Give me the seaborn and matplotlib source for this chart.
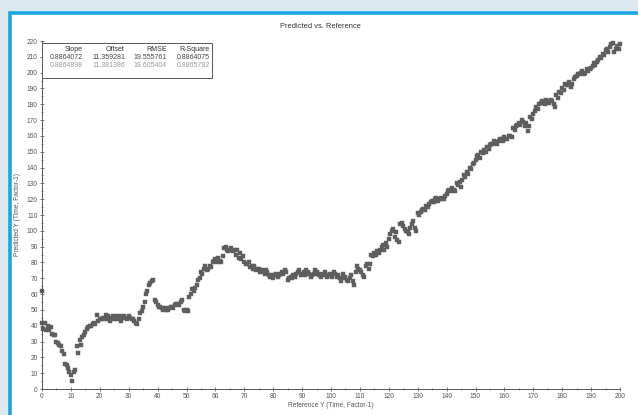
import numpy as np
import pandas as pd
import matplotlib
matplotlib.use("Agg")
import matplotlib.pyplot as plt
from matplotlib.patches import Rectangle
from matplotlib.ticker import MultipleLocator
import seaborn as sns

# Reference grid (half-unit steps) and the predicted values read for each point
reference_y = np.arange(0, 200.5, 0.5)
predicted_y = [
    42, 38, 42, 37, 40, 37, 39, 35, 34, 34, 30, 29, 28, 27, 24, 22, 16, 15, 13, 11,
    9, 5, 11, 12, 27, 23, 31, 28, 33, 34, 36, 38, 39, 40, 40, 41, 42, 41, 47, 43,
    44, 44, 45, 44, 47, 44, 46, 43, 45, 46, 44, 46, 44, 45, 46, 43, 45, 46, 45, 44,
    46, 45, 44, 44, 43, 42, 41, 44, 48, 49, 52, 55, 60, 62, 66, 67, 68, 69, 56, 55,
    53, 52, 52, 51, 50, 51, 50, 50, 51, 52, 52, 51, 53, 54, 54, 53, 55, 56, 50, 49,
    50, 49, 58, 60, 63, 62, 64, 66, 69, 70, 74, 73, 76, 78, 75, 76, 78, 77, 80, 81,
    82, 80, 83, 81, 80, 84, 89, 90, 88, 87, 88, 89, 87, 88, 85, 88, 83, 86, 82, 84,
    80, 79, 79, 80, 77, 78, 76, 78, 75, 76, 76, 74, 75, 74, 73, 75, 74, 72, 71, 72,
    70, 72, 73, 71, 72, 73, 74, 73, 75, 74, 69, 70, 71, 70, 72, 71, 73, 74, 75, 72,
    73, 74, 72, 75, 74, 73, 71, 72, 73, 75, 74, 73, 72, 71, 73, 72, 74, 71, 72, 73,
    72, 71, 74, 73, 71, 72, 70, 68, 73, 70, 71, 69, 68, 70, 72, 68, 66, 74, 78, 76,
    75, 74, 72, 71, 78, 79, 76, 79, 85, 84, 86, 85, 87, 86, 88, 90, 91, 88, 92, 90,
    95, 98, 100, 101, 96, 99, 94, 93, 104, 105, 103, 101, 100, 99, 98, 102, 104, 106, 102, 100,
    111, 110, 112, 113, 114, 113, 116, 115, 117, 118, 119, 118, 120, 121, 119, 120, 121, 120, 120, 122,
    123, 125, 126, 125, 127, 126, 125, 130, 129, 131, 128, 132, 135, 134, 137, 136, 140, 139, 142, 143,
    145, 147, 148, 146, 150, 149, 151, 150, 153, 152, 154, 155, 155, 157, 156, 155, 157, 158, 158, 157,
    159, 158, 158, 160, 160, 159, 165, 164, 166, 167, 168, 167, 170, 169, 166, 168, 163, 166, 172, 171,
    174, 176, 178, 177, 180, 181, 182, 181, 180, 183, 182, 181, 183, 182, 180, 178, 186, 184, 188, 187,
    190, 189, 193, 192, 192, 194, 191, 193, 196, 197, 198, 199, 199, 200, 201, 199, 200, 202, 201, 202,
    203, 204, 206, 205, 207, 208, 210, 209, 212, 211, 214, 215, 213, 216, 218, 219, 213, 215, 217, 215,
    218,
]
# one outlier sitting on the left axis
extra_ref = [0.0]
extra_pred = [62]

stat_headers = ["Slope", "Offset", "RMSE", "R-Square"]
stats_cal = ["0.8864072", "11.359281", "19.555761", "0.8864075"]
stats_val = ["0.8864898", "11.381386", "19.605404", "0.8865792"]

title = "Predicted vs. Reference"
x_label = "Reference Y (Time, Factor-1)"
y_label = "Predicted Y (Time, Factor-1)"

df = pd.DataFrame({
    "ref": np.concatenate([reference_y, extra_ref]),
    "pred": np.concatenate([predicted_y, extra_pred]),
})

sns.set_style("white")
plt.rcParams["font.family"] = ["Liberation Sans", "DejaVu Sans"]

W, H = 638, 415
fig = plt.figure(figsize=(W / 100, H / 100), dpi=100)
fig.patch.set_facecolor("#dce8ef")

# white panel with cyan frame, kept behind the axes
panel = Rectangle((9.5 / W, -0.05), 1.2, 1 - 12.5 / H + 0.05, transform=fig.transFigure,
                  facecolor="white", edgecolor="#19a7e2", linewidth=2.6, zorder=-10)
fig.patches.append(panel)

ax = fig.add_axes([42 / W, 1 - 389 / H, (620 - 42) / W, (389 - 41) / H])
ax.set_facecolor("none")
ax.set_zorder(1)

sns.scatterplot(data=df, x="ref", y="pred", ax=ax, marker="s", s=5,
                color="#5e5e5e", edgecolor="#5e5e5e", linewidth=0.3, legend=False,
                clip_on=False)

ax.set_xlim(0, 200)
ax.set_ylim(0, 220)
ax.xaxis.set_major_locator(MultipleLocator(10))
ax.xaxis.set_minor_locator(MultipleLocator(5))
ax.yaxis.set_major_locator(MultipleLocator(10))
ax.yaxis.set_minor_locator(MultipleLocator(5))
ax.tick_params(which="major", direction="inout", length=3, width=0.6, color="#666666",
               labelsize=4.8, labelcolor="#555555", pad=1.5)
ax.tick_params(which="minor", direction="inout", length=2, width=0.5, color="#666666")
ax.tick_params(axis="x", bottom=True, which="both")
ax.tick_params(axis="y", left=True, which="both")
for side in ["top", "right"]:
    ax.spines[side].set_visible(False)
for side in ["left", "bottom"]:
    ax.spines[side].set_color("#555555")
    ax.spines[side].set_linewidth(0.7)

ax.set_xlabel(x_label, fontsize=4.8, color="#555555", labelpad=1)
ax.set_ylabel(y_label, fontsize=4.8, color="#555555", labelpad=4)
fig.text(320 / W, 1 - 26 / H, title, ha="center", va="center", fontsize=5.4, color="#333333")

# statistics table in the upper-left corner, drawn in axes-fraction coordinates
def fx(px):
    return (px - 42) / (620 - 42)

def fy(py):
    return (389 - py) / (389 - 41)

box = Rectangle((fx(42), fy(78)), fx(212) - fx(42), fy(43) - fy(78), transform=ax.transAxes,
                facecolor="white", edgecolor="#555555", linewidth=0.7, zorder=5, clip_on=False)
ax.add_patch(box)
col_right = [83, 125, 167, 210]
for j, xr in enumerate(col_right):
    ax.text(fx(xr), fy(49.5), stat_headers[j], transform=ax.transAxes, ha="right", va="center",
            fontsize=5.0, color="#333333", zorder=6)
    ax.text(fx(xr), fy(57.5), stats_cal[j], transform=ax.transAxes, ha="right", va="center",
            fontsize=5.0, color="#444444", zorder=6)
    ax.text(fx(xr), fy(65.5), stats_val[j], transform=ax.transAxes, ha="right", va="center",
            fontsize=5.0, color="#9a9a9a", zorder=6)

fig.savefig("out.png", dpi=100, facecolor=fig.get_facecolor())
